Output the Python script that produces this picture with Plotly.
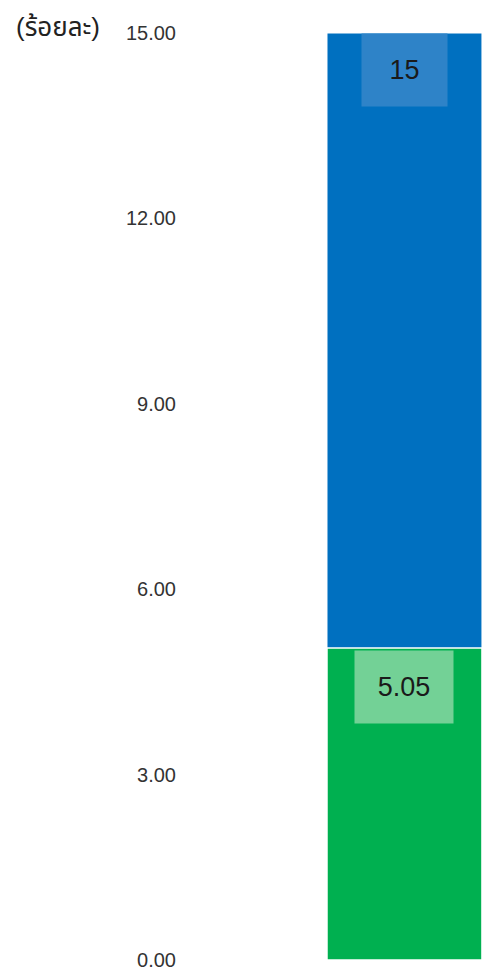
import plotly.graph_objects as go

# Data
categories = ["rate"]
total_values = [15]
part_values = [5.05]
total_labels = ["15"]
part_labels = ["5.05"]
tick_vals = [0, 3, 6, 9, 12, 15]
tick_text = ["0.00", "3.00", "6.00", "9.00", "12.00", "15.00"]
unit_title = "(ร้อยละ)"

BLUE = "#0070C0"
GREEN = "#00B050"
FONT = "Liberation Sans, Noto Sans Thai, Noto Sans, sans-serif"

fig = go.Figure()
fig.add_trace(go.Bar(
    x=[0], y=total_values, width=1, marker=dict(color=BLUE, line=dict(color="white", width=1)),
    hoverinfo="skip", showlegend=False,
))
fig.add_trace(go.Bar(
    x=[0], y=part_values, width=1, marker=dict(color=GREEN, line=dict(color="white", width=1.5)),
    hoverinfo="skip", showlegend=False,
))

fig.add_annotation(x=0, y=total_values[0], xref="x", yref="y", text=total_labels[0],
                   showarrow=False, yanchor="top", xanchor="center",
                   width=85, height=72, borderpad=0, bgcolor="#2E83C8",
                   font=dict(family=FONT, size=27, color="#1a1a1a"))
fig.add_annotation(x=0, y=part_values[0], xref="x", yref="y", text=part_labels[0],
                   showarrow=False, yanchor="top", xanchor="center",
                   width=98, height=72, borderpad=0, bgcolor="#73D196",
                   font=dict(family=FONT, size=27, color="#1a1a1a"), yshift=-2)

fig.add_annotation(x=(14 - 185) / 303, y=1 + (33 - 27) / 927, xref="paper", yref="paper",
                   text=unit_title, showarrow=False, xanchor="left", yanchor="middle",
                   font=dict(family=FONT, size=26, color="#222222"))

fig.update_layout(
    width=488, height=980,
    margin=dict(l=185, r=0, t=33, b=20, autoexpand=False),
    paper_bgcolor="white", plot_bgcolor="white",
    barmode="overlay",
    font=dict(family=FONT, size=20, color="#333333"),
    xaxis=dict(range=[-1.4163, 0.539], visible=False, fixedrange=True),
    yaxis=dict(range=[0, 15], tickvals=tick_vals, ticktext=tick_text, showgrid=False,
               zeroline=False, showline=False, ticks="", ticklabelstandoff=8,
               fixedrange=True,
               tickfont=dict(family=FONT, size=20, color="#333333")),
)

fig.write_html("out.html", config={"displayModeBar": False, "staticPlot": True},
               post_script="document.body.style.margin='0';document.body.style.overflow='hidden';")
